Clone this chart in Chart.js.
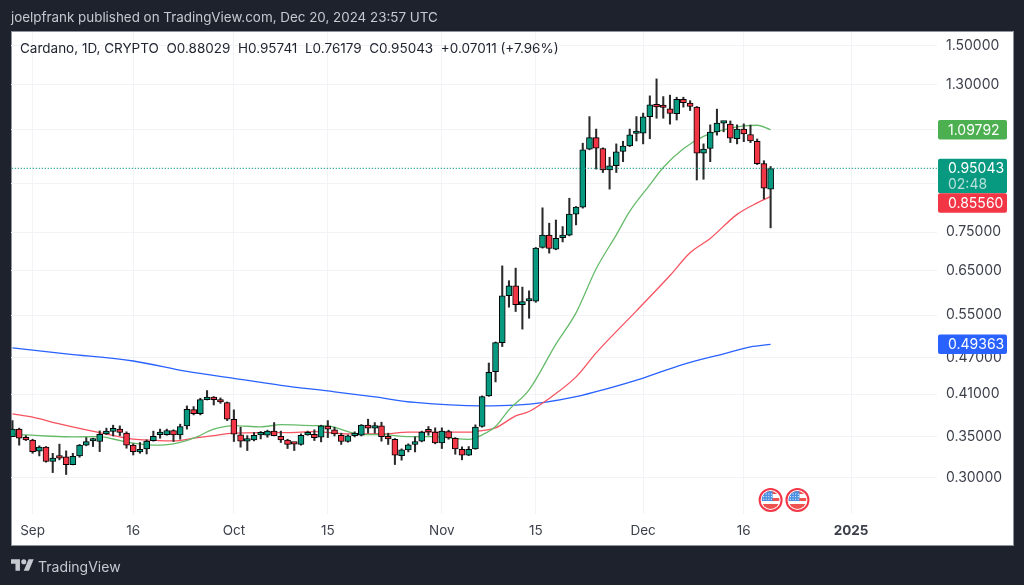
<!DOCTYPE html>
<html lang="en">
<head>
    <meta charset="UTF-8">
    <title>Cardano, 1D, CRYPTO</title>
    <script src="https://cdn.jsdelivr.net/npm/chart.js"></script>
    <style>
        body {
            margin: 0;
            width: 1024px;
            height: 585px;
            overflow: hidden;
            background-color: #1e222d;
            font-family: Inter, "Noto Sans", sans-serif;
            position: relative;
        }

        #panel {
            position: absolute;
            left: 11px;
            top: 31px;
            width: 1001px;
            height: 513px;
            background-color: #fff;
            border: 1px solid #8f939c;
        }

        #chart {
            position: absolute;
            left: 0;
            top: 0;
        }

        #published {
            position: absolute;
            left: 11px;
            top: 9px;
            font-size: 13.4px;
            color: #c6c9d0;
            white-space: nowrap;
        }

        #ohlc {
            position: absolute;
            left: 20px;
            top: 40px;
            font-size: 13.5px;
            color: #1e222d;
            white-space: pre;
        }

        #brand {
            position: absolute;
            left: 38px;
            top: 558px;
            font-size: 14px;
            color: #c6c9d0;
        }

        #logo {
            position: absolute;
            left: 11px;
            top: 559px;
        }
    </style>
</head>
<body>
    <div id="panel"></div>
    <canvas id="chart" width="1024" height="585"></canvas>
    <div id="published">joelpfrank published on TradingView.com, Dec 20, 2024 23:57 UTC</div>
    <div id="ohlc">Cardano, 1D, CRYPTO  O0.88029  H0.95741  L0.76179  C0.95043  +0.07011 (+7.96%)</div>
    <svg id="logo" width="23" height="12" viewBox="0 4 36 18"><path fill="#c6c9d0" d="M14 22H7V11H0V4h14v18zM28 22h-8l7.5-18h8L28 22z"/><circle fill="#c6c9d0" cx="20" cy="8" r="4"/></svg>
    <div id="brand">TradingView</div>
    <script>
        // day 0 = Aug 29 2024, one candle per day up to Dec 20
        const openPrices = [
            0.3500, 0.3599, 0.3479,
            0.3454, 0.3314, 0.3365, 0.3190, 0.3245, 0.3245, 0.3154, 0.3257, 0.3390, 0.3443, 0.3437, 0.3536, 0.3567, 0.3599, 0.3545,
            0.3390, 0.3306, 0.3344, 0.3449, 0.3527, 0.3527, 0.3581, 0.3522, 0.3643, 0.3872, 0.3814, 0.4017, 0.4027, 0.4007, 0.3972,
            0.3734, 0.3522, 0.3441, 0.3458, 0.3522, 0.3518, 0.3572, 0.3504, 0.3454, 0.3411, 0.3399, 0.3522, 0.3531, 0.3492, 0.3639, 0.3590,
            0.3518, 0.3437, 0.3513, 0.3518, 0.3652, 0.3612, 0.3643, 0.3492, 0.3466, 0.3261, 0.3331, 0.3399, 0.3441, 0.3572, 0.3558,
            0.3420, 0.3567, 0.3479, 0.3339, 0.3265, 0.3344, 0.3634, 0.4074, 0.4458, 0.4967, 0.5919, 0.6138, 0.5724, 0.5800, 0.5795,
            0.7080, 0.7413, 0.7038, 0.7346, 0.7413, 0.8017, 0.8229, 1.0215, 1.0662, 1.0238, 0.9457, 0.9608, 1.0124, 1.0340, 1.0826,
            1.0842, 1.1531, 1.2047, 1.1959, 1.1871, 1.1660, 1.2300, 1.2122, 1.1946, 1.0063, 1.0238, 1.0895, 1.1251, 1.1210, 1.0620,
            1.1006, 1.0785, 1.0519, 0.9679, 0.88029
        ];
        const highPrices = [
            0.3715, 0.3612, 0.3513,
            0.3466, 0.3382, 0.3373, 0.3289, 0.3403, 0.3319, 0.3289, 0.3399, 0.3487, 0.3479, 0.3576, 0.3612, 0.3652, 0.3643, 0.3563,
            0.3407, 0.3424, 0.3458, 0.3572, 0.3599, 0.3599, 0.3590, 0.3666, 0.3924, 0.3914, 0.4038, 0.4155, 0.4063, 0.4043, 0.3982,
            0.3867, 0.3625, 0.3513, 0.3554, 0.3567, 0.3585, 0.3688, 0.3572, 0.3466, 0.3416, 0.3536, 0.3572, 0.3590, 0.3652, 0.3715, 0.3625,
            0.3545, 0.3522, 0.3563, 0.3661, 0.3734, 0.3688, 0.3693, 0.3545, 0.3475, 0.3344, 0.3407, 0.3496, 0.3572, 0.3634, 0.3616,
            0.3616, 0.3585, 0.3487, 0.3369, 0.3373, 0.3657, 0.4073, 0.4604, 0.4980, 0.6612, 0.6257, 0.6557, 0.6109, 0.6025, 0.7080,
            0.8208, 0.7751, 0.7844, 0.7655, 0.8507, 0.8248, 1.0443, 1.1531, 1.1006, 1.0264, 0.9911, 1.0416, 1.0519, 1.1006, 1.1531,
            1.1681, 1.2457, 1.3270, 1.2423, 1.2490, 1.2395, 1.2395, 1.2236, 1.1972, 1.0416, 1.1182, 1.1857, 1.1317, 1.1345, 1.1182,
            1.1222, 1.1169, 1.0609, 0.9784, 0.95741
        ];
        const lowPrices = [
            0.3500, 0.3390, 0.3449,
            0.3289, 0.3257, 0.3182, 0.3061, 0.3210, 0.3039, 0.3150, 0.3241, 0.3382, 0.3373, 0.3310, 0.3527, 0.3509, 0.3513, 0.3352,
            0.3269, 0.3289, 0.3281, 0.3441, 0.3479, 0.3518, 0.3437, 0.3466, 0.3599, 0.3795, 0.3795, 0.4012, 0.3938, 0.3962, 0.3715,
            0.3437, 0.3365, 0.3323, 0.3445, 0.3470, 0.3492, 0.3509, 0.3424, 0.3348, 0.3323, 0.3390, 0.3518, 0.3449, 0.3432, 0.3487, 0.3509,
            0.3399, 0.3428, 0.3496, 0.3509, 0.3545, 0.3545, 0.3441, 0.3399, 0.3154, 0.3206, 0.3306, 0.3306, 0.3432, 0.3518, 0.3407,
            0.3348, 0.3466, 0.3277, 0.3210, 0.3261, 0.3339, 0.3625, 0.4066, 0.4291, 0.4895, 0.5669, 0.5578, 0.5224, 0.5440, 0.5773,
            0.7064, 0.6933, 0.7020, 0.7229, 0.7394, 0.7703, 0.8199, 1.0189, 0.9482, 0.9362, 0.8801, 0.9362, 0.9749, 1.0314, 1.0530,
            1.0416, 1.0617, 1.1461, 1.1461, 1.1210, 1.1386, 1.1946, 1.1795, 0.9105, 0.9130, 0.9749, 1.0761, 1.0895, 1.0466, 1.0416,
            1.0503, 1.0466, 0.9644, 0.8484, 0.76179
        ];
        const closePrices = [
            0.3599, 0.3479, 0.3458,
            0.3310, 0.3365, 0.3190, 0.3230, 0.3230, 0.3154, 0.3253, 0.3390, 0.3437, 0.3449, 0.3531, 0.3572, 0.3608, 0.3554, 0.3390,
            0.3310, 0.3339, 0.3441, 0.3504, 0.3536, 0.3581, 0.3522, 0.3634, 0.3876, 0.3814, 0.4017, 0.4027, 0.4017, 0.3982, 0.3734,
            0.3531, 0.3441, 0.3454, 0.3518, 0.3531, 0.3572, 0.3513, 0.3458, 0.3399, 0.3403, 0.3518, 0.3531, 0.3487, 0.3643, 0.3599, 0.3536,
            0.3437, 0.3509, 0.3522, 0.3652, 0.3612, 0.3643, 0.3500, 0.3470, 0.3265, 0.3331, 0.3394, 0.3437, 0.3558, 0.3563, 0.3420,
            0.3572, 0.3483, 0.3344, 0.3265, 0.3339, 0.3625, 0.4063, 0.4448, 0.4967, 0.5912, 0.6138, 0.5724, 0.5786, 0.5815, 0.7064,
            0.7413, 0.7053, 0.7329, 0.7413, 0.8017, 0.8229, 1.0189, 1.0662, 1.0253, 0.9457, 0.9598, 1.0113, 1.0329, 1.0773, 1.0854,
            1.1518, 1.2047, 1.1959, 1.1928, 1.1664, 1.2300, 1.2148, 1.1972, 1.0063, 1.0215, 1.0883, 1.1251, 1.1276, 1.0637, 1.1006,
            1.0814, 1.0530, 0.9679, 0.8834, 0.95043
        ];

        const greenDays = [0, 2, 5, 9, 13, 15, 18, 21, 24, 27, 30, 33, 37, 40, 45, 47, 50, 52, 55, 59, 63, 66, 68, 70, 72, 74, 77, 81, 84, 87, 90, 92, 95, 97, 100, 103, 106, 109, 111, 113];
        const greenValues = [0.3535, 0.3522, 0.3508, 0.3496, 0.3500, 0.3469, 0.3415, 0.3390, 0.3406, 0.3479, 0.3598, 0.3647, 0.3629, 0.3660, 0.3647, 0.3643, 0.3566, 0.3527, 0.3527, 0.3500, 0.3500, 0.3473, 0.3465, 0.3522, 0.3633, 0.3867, 0.4167, 0.4940, 0.5550, 0.6540, 0.7422, 0.8099, 0.8942, 0.9538, 1.0226, 1.0711, 1.0977, 1.1141, 1.1165, 1.09792];
        const redDays = [0, 3, 7, 11, 13, 18, 21, 24, 27, 30, 33, 37, 41, 45, 50, 55, 59, 64, 68, 70, 72, 75, 77, 80, 84, 87, 93, 98, 101, 104, 108, 111, 113];
        const redValues = [0.3809, 0.3762, 0.3669, 0.3589, 0.3553, 0.3468, 0.3452, 0.3444, 0.3479, 0.3514, 0.3545, 0.3553, 0.3553, 0.3566, 0.3535, 0.3535, 0.3558, 0.3558, 0.3558, 0.3580, 0.3616, 0.3781, 0.3843, 0.4035, 0.4372, 0.4782, 0.5592, 0.6380, 0.6941, 0.7323, 0.8011, 0.8360, 0.8556];
        const blueDays = [0, 8, 18, 26, 33, 40, 48, 54, 60, 70, 75, 79, 84, 88, 94, 100, 106, 110, 113];
        const blueValues = [0.4872, 0.4764, 0.4639, 0.4462, 0.4348, 0.4237, 0.4136, 0.4057, 0.3975, 0.3925, 0.3936, 0.3972, 0.4062, 0.4167, 0.4354, 0.4581, 0.4764, 0.4890, 0.49363];

        const priceTicks = [1.5, 1.3, 1.1, 0.9, 0.75, 0.65, 0.55, 0.47, 0.41, 0.35, 0.3];
        const dayTicks = [3, 18, 33, 47, 64, 78, 94, 109, 125];
        const dayLabels = ['Sep', '16', 'Oct', '15', 'Nov', '15', 'Dec', '16', '2025'];
        const eventDays = [113, 117];

        const GREEN = '#089981';
        const RED = '#f23645';
        const GRID = '#f1f3f6';
        const lastClose = closePrices[closePrices.length - 1];

        const candleDays = openPrices.map((_, i) => i);
        const points = (days, values) => days.map((d, i) => ({ x: d, y: values[i] }));

        // labels on the price scale, they push each other down when they overlap
        const priceTags = [
            { value: greenValues[greenValues.length - 1], color: '#4caf50' },
            { value: lastClose, color: GREEN, timer: '02:48' },
            { value: redValues[redValues.length - 1], color: RED },
            { value: blueValues[blueValues.length - 1], color: '#2962ff' }
        ];

        function drawFlag(ctx, cx, cy) {
            ctx.save();
            ctx.beginPath();
            ctx.arc(cx, cy, 12, 0, Math.PI * 2);
            ctx.fillStyle = '#fff';
            ctx.fill();
            ctx.beginPath();
            ctx.arc(cx, cy, 11, 0, Math.PI * 2);
            ctx.lineWidth = 2;
            ctx.strokeStyle = RED;
            ctx.stroke();
            ctx.beginPath();
            ctx.arc(cx, cy, 9, 0, Math.PI * 2);
            ctx.clip();
            ctx.fillStyle = '#ef5350';
            ctx.fillRect(cx - 9, cy - 9, 18, 3);
            ctx.fillRect(cx - 9, cy - 2, 18, 3);
            ctx.fillRect(cx - 9, cy + 4, 18, 5);
            ctx.fillStyle = '#4a90e2';
            ctx.fillRect(cx - 9, cy - 9, 11, 10);
            ctx.fillStyle = '#fff';
            for (let i = 0; i < 4; i++) {
                for (let j = 0; j < 3; j++) {
                    ctx.fillRect(cx - 7.5 + i * 2.6, cy - 6.5 + j * 2.6, 1, 1);
                }
            }
            ctx.restore();
        }

        const overlayPlugin = {
            id: 'overlay',
            afterDraw(chart) {
                const ctx = chart.ctx;
                const y = chart.scales.y;
                const x = chart.scales.x;
                const tagLeft = chart.chartArea.right + 1;
                let prevBottom = 0;
                ctx.save();
                ctx.textBaseline = 'middle';
                ctx.textAlign = 'left';
                ctx.font = '14px Inter';
                priceTags.forEach(tag => {
                    const py = y.getPixelForValue(tag.value);
                    const h = tag.timer ? 34.5 : 19.5;
                    const top = Math.max(py - 9.75, prevBottom);
                    ctx.fillStyle = tag.color;
                    ctx.beginPath();
                    ctx.roundRect(tagLeft, top, 69, h, 2);
                    ctx.fill();
                    ctx.fillStyle = '#fff';
                    ctx.fillText(tag.value.toFixed(5), tagLeft + 10, top + 10.5);
                    if (tag.timer) {
                        ctx.fillStyle = 'rgba(255,255,255,0.7)';
                        ctx.fillText(tag.timer, tagLeft + 10, top + 26);
                    }
                    prevBottom = top + h;
                });
                ctx.restore();
                eventDays.forEach(d => drawFlag(ctx, x.getPixelForValue(d), chart.chartArea.bottom - 14));
            }
        };

        new Chart(document.getElementById('chart').getContext('2d'), {
            type: 'bar',
            data: {
                datasets: [
                    {
                        // last price line
                        type: 'line',
                        data: [{ x: -1, y: lastClose }, { x: 138, y: lastClose }],
                        borderColor: GREEN,
                        borderWidth: 1.2,
                        borderDash: [1, 2],
                        pointRadius: 0,
                        order: 1
                    },
                    {
                        data: candleDays.map(d => ({ x: d, y: [openPrices[d], closePrices[d]] })),
                        backgroundColor: candleDays.map(d => closePrices[d] >= openPrices[d] ? GREEN : RED),
                        borderColor: '#000',
                        borderWidth: 1,
                        borderSkipped: false,
                        barThickness: 6,
                        minBarLength: 2.5,
                        grouped: false,
                        order: 2
                    },
                    {
                        data: candleDays.map(d => ({ x: d, y: [lowPrices[d], highPrices[d]] })),
                        backgroundColor: '#2b2b2b',
                        barThickness: 1.4,
                        grouped: false,
                        order: 3
                    },
                    {
                        type: 'line',
                        data: points(greenDays, greenValues),
                        borderColor: '#66bb6a',
                        borderWidth: 1.3,
                        cubicInterpolationMode: 'monotone',
                        pointRadius: 0,
                        order: 4
                    },
                    {
                        type: 'line',
                        data: points(redDays, redValues),
                        borderColor: '#f7525f',
                        borderWidth: 1.3,
                        cubicInterpolationMode: 'monotone',
                        pointRadius: 0,
                        order: 5
                    },
                    {
                        type: 'line',
                        data: points(blueDays, blueValues),
                        borderColor: '#2962ff',
                        borderWidth: 1.3,
                        cubicInterpolationMode: 'monotone',
                        pointRadius: 0,
                        order: 6
                    }
                ]
            },
            options: {
                responsive: false,
                animation: false,
                layout: { padding: { left: 11, top: 32, right: 11, bottom: 40 } },
                plugins: { legend: { display: false }, tooltip: { enabled: false } },
                scales: {
                    x: {
                        type: 'linear',
                        offset: false,
                        min: -0.22,
                        max: 137.8,
                        afterFit: scale => { scale.height = 31; },
                        afterBuildTicks: scale => { scale.ticks = dayTicks.map(v => ({ value: v })); },
                        grid: { color: GRID, drawTicks: false, offset: false },
                        border: { display: false },
                        ticks: {
                            autoSkip: false,
                            maxRotation: 0,
                            padding: 9,
                            color: '#3b3f4a',
                            font: ctx => ({
                                family: 'Inter',
                                size: 13.5,
                                weight: ctx.tick && ctx.tick.value === 125 ? 'bold' : 'normal'
                            }),
                            callback: value => dayLabels[dayTicks.indexOf(value)]
                        }
                    },
                    y: {
                        type: 'logarithmic',
                        position: 'right',
                        bounds: 'data',
                        min: 0.26233,
                        max: 1.5803,
                        afterFit: scale => { scale.width = 76; },
                        afterBuildTicks: scale => { scale.ticks = priceTicks.map(v => ({ value: v })); },
                        grid: { color: GRID, drawTicks: false },
                        border: { display: false },
                        ticks: {
                            autoSkip: false,
                            padding: 9,
                            color: '#3b3f4a',
                            font: { family: 'Inter', size: 14 },
                            callback: value => value.toFixed(5)
                        }
                    }
                }
            },
            plugins: [overlayPlugin]
        });
    </script>
</body>
</html>
